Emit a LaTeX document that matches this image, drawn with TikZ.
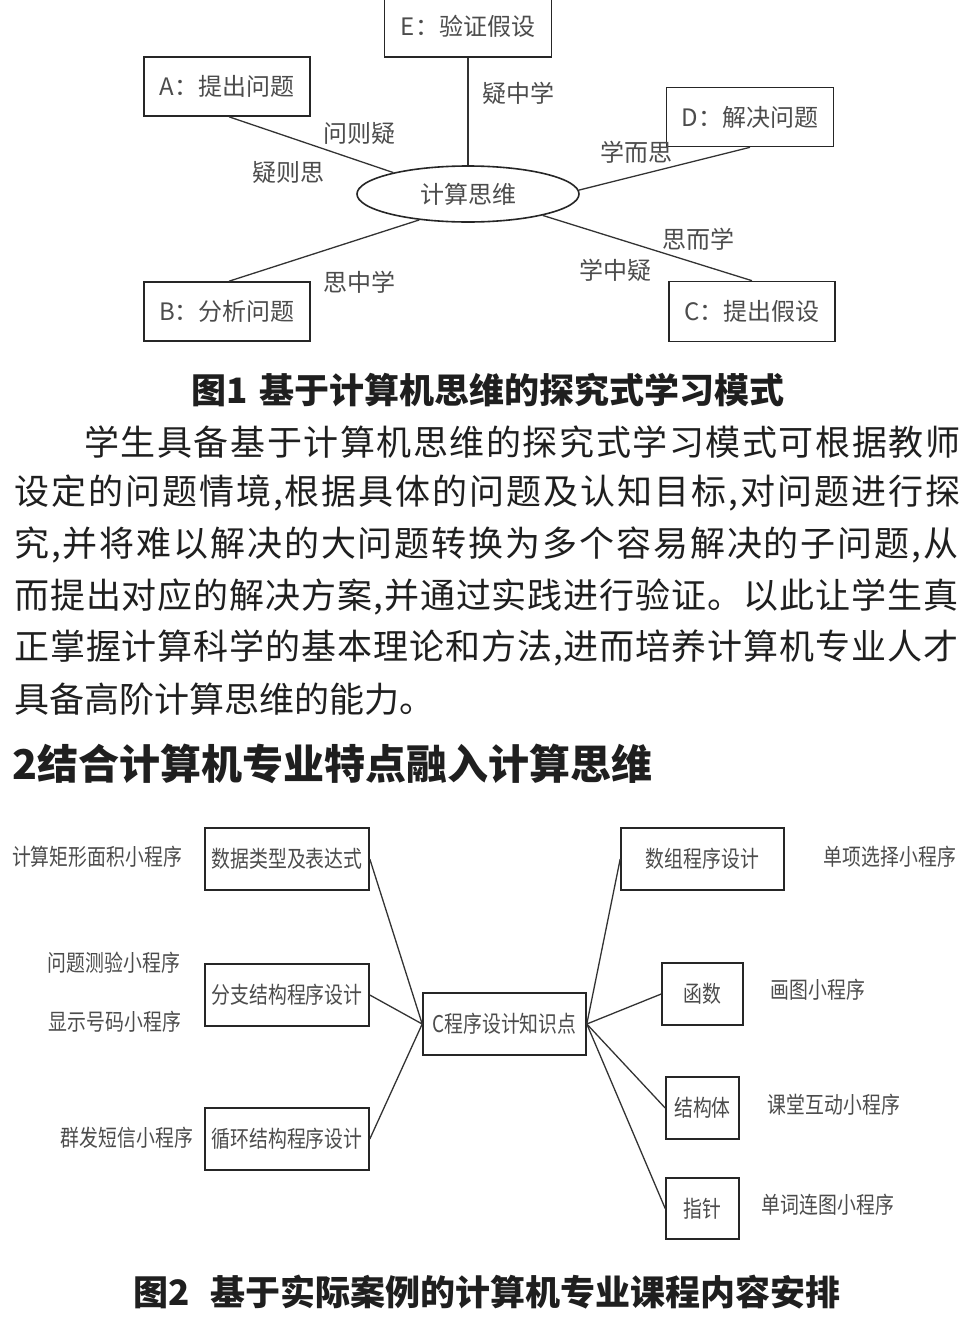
\documentclass[tikz,border=0pt]{standalone}
\usepackage{fontspec}
\setmainfont{Noto Sans CJK SC}
\newfontfamily\cjkn[FakeStretch=0.82]{Noto Sans CJK SC}
\usetikzlibrary{shapes.geometric}
\makeatletter
\newcommand\bodyline[2]{\hbox to #1{\@tfor\bl@c:=#2\do{\bl@c\hskip 0pt plus 1fil}\unskip}}
\makeatother
\tikzset{
  tbox/.style={draw=black!85, line width=1.6pt, minimum width=166pt, minimum height=59pt, inner sep=0pt,
    font=\fontsize{24}{28}\selectfont, text=black!70},
  tlbl/.style={inner sep=0pt, font=\fontsize{24}{28}\selectfont, text=black!70},
  bbox/.style={draw=black!85, line width=1.6pt, minimum height=62pt, inner sep=0pt,
    font=\cjkn\fontsize{23}{27}\selectfont, text=black!70},
  blbl/.style={inner sep=0pt, font=\cjkn\fontsize{23}{27}\selectfont, text=black!70},
  conn/.style={line width=1.3pt, draw=black!80},
  body/.style={inner sep=0pt, anchor=west, font=\fontsize{35}{40}\selectfont, text=black!88},
  capt/.style={inner sep=0pt, font=\bfseries\fontsize{35}{40}\selectfont, text=black!88}
}
\begin{document}
\begin{tikzpicture}[x=1pt,y=-1pt]
\useasboundingbox (0,0) rectangle (967,1320);
\clip (0,0) rectangle (967,1320);
\fill[white] (0,0) rectangle (967,1320);

% ---------- Figure 1 ----------
\node[tbox, minimum width=167pt, minimum height=62pt] (E) at (468,26) {E：验证假设};
\node[tbox] (A) at (227,86.5) {A：提出问题};
\node[tbox, minimum width=167pt] (D) at (750,117) {D：解决问题};
\node[tbox] (B) at (227,311.5) {B：分析问题};
\node[tbox, minimum height=60pt] (C) at (752,311.5) {C：提出假设};
\node[draw=black!85, line width=1.6pt, ellipse, minimum width=222pt, minimum height=56pt, inner sep=0pt,
      font=\fontsize{24}{28}\selectfont, text=black!70] (ell) at (468,194) {计算思维};

\draw[conn] (E.south) -- (ell.north);
\draw[conn] ([xshift=2pt]A.south) -- (ell.164);
\draw[conn] (D.south) -- (ell.2);
\draw[conn] ([xshift=2pt]B.north) -- (ell.-152);
\draw[conn] (C.north) -- (ell.-16);

\node[tlbl] (l1) at (518,93) {疑中学};
\node[tlbl] (l2) at (359,133) {问则疑};
\node[tlbl] (l3) at (288,172) {疑则思};
\node[tlbl] (l4) at (636,152) {学而思};
\node[tlbl] (l5) at (698,239) {思而学};
\node[tlbl] (l6) at (615,270) {学中疑};
\node[tlbl] (l7) at (359,282) {思中学};

\node[capt] (cap1) at (488,390) {图1\hspace{0.35em}基于计算机思维的探究式学习模式};

% ---------- Body text ----------
\node[body] (t1) at (84,442) {\bodyline{876pt}{学生具备基于计算机思维的探究式学习模式可根据教师}};
\node[body] (t2) at (14,493) {\bodyline{946pt}{设定的问题情境,根据具体的问题及认知目标,对问题进行探}};
\node[body] (t3) at (14,545) {\bodyline{944pt}{究,并将难以解决的大问题转换为多个容易解决的子问题,从}};
\node[body] (t4) at (14,597) {\bodyline{944pt}{而提出对应的解决方案,并通过实践进行验证。以此让学生真}};
\node[body] (t5) at (14,648) {\bodyline{944pt}{正掌握计算科学的基本理论和方法,进而培养计算机专业人才}};
\node[body] (t6) at (14,699) {具备高阶计算思维的能力。};

\node[inner sep=0pt, anchor=west, font=\bfseries\fontsize{41}{46}\selectfont, text=black!88] (h2) at (12,764) {2结合计算机专业特点融入计算思维};

% ---------- Figure 2 ----------
\node[bbox, minimum width=164pt] (n1) at (287,859) {数据类型及表达式};
\node[bbox, minimum width=164pt] (n2) at (287,995) {分支结构程序设计};
\node[bbox, minimum width=164pt] (n3) at (287,1139) {循环结构程序设计};
\node[bbox, minimum width=163pt] (cc) at (504.5,1024) {C程序设计知识点};
\node[bbox, minimum width=163pt] (r1) at (702.5,859) {数组程序设计};
\node[bbox, minimum width=81pt] (r2) at (702.5,994) {函数};
\node[bbox, minimum width=73pt] (r3) at (702.5,1108) {结构体};
\node[bbox, minimum width=73pt, minimum height=61pt] (r4) at (702.5,1208.5) {指针};

\draw[conn] (n1.east) -- (cc.west);
\draw[conn] (n2.east) -- (cc.west);
\draw[conn] (n3.east) -- (cc.west);
\draw[conn] (cc.east) -- (r1.west);
\draw[conn] (cc.east) -- (r2.west);
\draw[conn] (cc.east) -- (r3.west);
\draw[conn] (cc.east) -- (r4.west);

\node[blbl] (p1) at (97,857) {计算矩形面积小程序};
\node[blbl] (p2) at (114,963) {问题测验小程序};
\node[blbl] (p3) at (115,1022) {显示号码小程序};
\node[blbl] (p4) at (127,1138) {群发短信小程序};
\node[blbl] (q1) at (890,857) {单项选择小程序};
\node[blbl] (q2) at (818,990) {画图小程序};
\node[blbl] (q3) at (834,1105) {课堂互动小程序};
\node[blbl] (q4) at (828,1205) {单词连图小程序};

\node[capt] (cap2) at (487,1292) {图2\hspace{0.6em}基于实际案例的计算机专业课程内容安排};
\end{tikzpicture}
\end{document}
